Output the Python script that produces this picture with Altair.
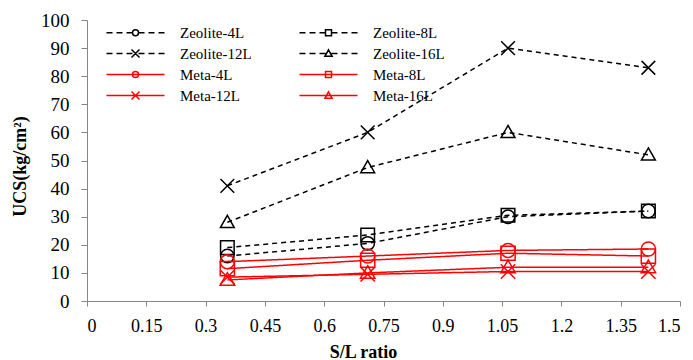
import altair as alt
import pandas as pd

# ---- data ----
series = ["Zeolite-4L", "Zeolite-8L", "Zeolite-12L", "Zeolite-16L",
          "Meta-4L", "Meta-8L", "Meta-12L", "Meta-16L"]
sl_ratio = [0.355, 0.71, 1.065, 1.42]
zeolite_4l = [16, 20.5, 30, 32]
zeolite_8l = [19, 23.5, 30.5, 32]
zeolite_12l = [41, 60, 90, 83]
zeolite_16l = [28, 47.5, 60, 52]
meta_4l = [14, 16, 18, 18.5]
meta_8l = [11.5, 14.5, 17, 16]
meta_12l = [8.5, 9.5, 10.5, 10.5]
meta_16l = [7.5, 10, 12, 12]
x_ticks = [0, 0.15, 0.3, 0.45, 0.6, 0.75, 0.9, 1.05, 1.2, 1.35, 1.5]
y_ticks = [0, 10, 20, 30, 40, 50, 60, 70, 80, 90, 100]

values = [zeolite_4l, zeolite_8l, zeolite_12l, zeolite_16l,
          meta_4l, meta_8l, meta_12l, meta_16l]
rows = []
for name, vals in zip(series, values):
    for x, y in zip(sl_ratio, vals):
        rows.append({"series": name, "x": x, "y": y})
df = pd.DataFrame(rows)

# ---- styles ----
BLACK, RED = "#000000", "#ff0000"
colors = [BLACK] * 4 + [RED] * 4
dashes = [[5, 4]] * 4 + [[1, 0]] * 4
x_path = "M-1,-1L1,1M-1,1L1,-1"
tri_path = "M0,-1L1,0.75H-1Z"
plot_shapes = ["circle", "square", x_path, tri_path] * 2
plot_sizes = [180, 210, 130, 110, 90, 80, 100, 100]

dashed = "M-14.5,0H-11.5M-9.5,0H-6.5M-4.5,0H-1.5M1.5,0H4.5M6.5,0H9.5M11.5,0H14.5"
solid = "M-14.5,0H14.5"
circ = "M1.5,0A1.5,1.5,0,1,1,-1.5,0A1.5,1.5,0,1,1,1.5,0Z"
sq = "M-1.5,-1.5H1.5V1.5H-1.5Z"
xx = "M-2,-2L2,2M-2,2L2,-2"
tri = "M0,-1.8L1.8,1.4H-1.8Z"
legend_shapes = [dashed + m for m in (circ, sq, xx, tri)] + [solid + m for m in (circ, sq, xx, tri)]

SERIF = "Liberation Serif"

x_axis = alt.Axis(values=x_ticks, format=".2~f", title="S/L ratio",
                  tickSize=5, labelPadding=11, titlePadding=8,
                  labelOverlap=False, labelFontSize=18, titleX=276)
y_axis = alt.Axis(values=y_ticks, format="d", title="UCS(kg/cm²)",
                  tickSize=6, labelPadding=12, titlePadding=11,
                  labelOverlap=False, labelFontSize=19, titleY=146)
x_scale = alt.Scale(domain=[0, 1.5], nice=False, zero=False)
y_scale = alt.Scale(domain=[0, 100], nice=False)


def xy():
    return dict(x=alt.X("x:Q", scale=x_scale, axis=x_axis),
                y=alt.Y("y:Q", scale=y_scale, axis=y_axis))


base = alt.Chart(df)

lines = base.mark_line(strokeWidth=1.5).encode(
    **xy(),
    color=alt.Color("series:N", scale=alt.Scale(domain=series, range=colors), legend=None),
    strokeDash=alt.StrokeDash("series:N", scale=alt.Scale(domain=series, range=dashes), legend=None),
    detail="series:N",
)

points = base.mark_point(filled=False, strokeWidth=1.5, opacity=1).encode(
    **xy(),
    color=alt.Color("series:N", scale=alt.Scale(domain=series, range=colors), legend=None),
    shape=alt.Shape("series:N", scale=alt.Scale(domain=series, range=plot_shapes), legend=None),
    size=alt.Size("series:N", scale=alt.Scale(domain=series, range=plot_sizes), legend=None),
)

leg = alt.Legend(title=None, orient="none", legendX=41, legendY=5, columns=2,
                 direction="horizontal",
                 columnPadding=44, rowPadding=5, symbolSize=16, symbolStrokeWidth=1.5,
                 labelFont=SERIF, labelFontSize=15, labelColor="#000000",
                 labelOffset=37, padding=0)

legend_layer = base.mark_point(filled=False, strokeWidth=1.5, opacity=1, size=16).encode(
    **xy(),
    color=alt.Color("series:N", scale=alt.Scale(domain=series, range=colors), legend=leg),
    shape=alt.Shape("series:N", scale=alt.Scale(domain=series, range=legend_shapes), legend=leg),
).transform_filter("false")

chart = alt.layer(lines, points, legend_layer).resolve_scale(
    color="independent", shape="independent", size="independent", strokeDash="independent"
).properties(
    width=593, height=281,
    padding={"left": 87, "top": 20, "right": 13, "bottom": 59},
    autosize="none",
).configure_view(stroke=None).configure_axis(
    grid=False, domainColor="#868686", tickColor="#868686", domainWidth=1, tickWidth=1,
    labelFont=SERIF, labelColor="#000000",
    titleFont=SERIF, titleFontSize=18, titleFontWeight="bold", titleColor="#000000",
)

chart.save("out.html", embed_options={"renderer": "svg", "actions": False})
